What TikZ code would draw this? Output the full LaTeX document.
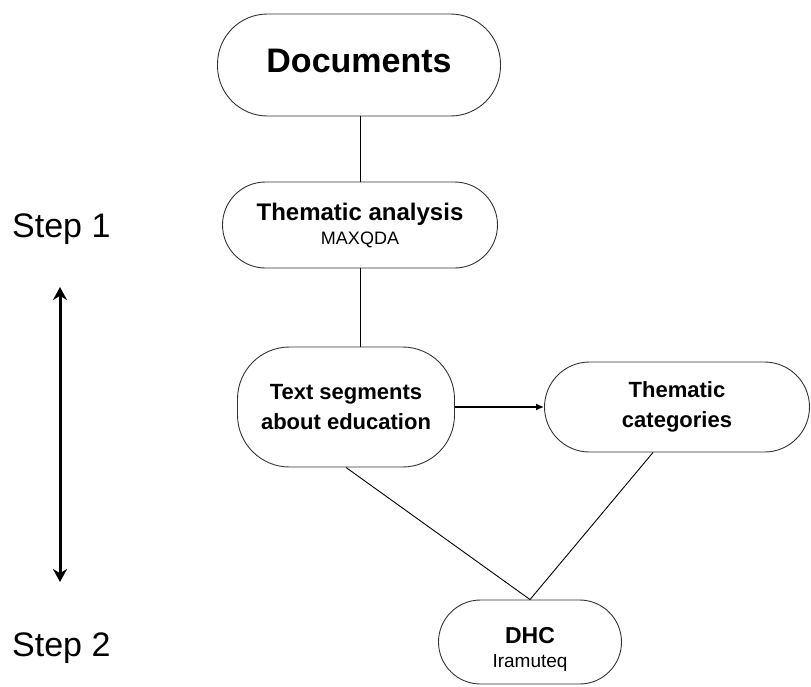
\documentclass[tikz,border=0pt]{standalone}
\usepackage{fontspec}
\setmainfont{Liberation Sans}
\usetikzlibrary{positioning,arrows.meta}
\tikzset{
  pill/.style={draw=black!80,line width=0.9pt,rounded corners=43pt,align=center,inner sep=0pt},
  bigfont/.style={font=\bfseries\fontsize{22}{30}\selectfont},
  stagelabel/.style={font=\fontsize{34}{34}\selectfont,anchor=base west,inner sep=0pt}
}
\newcommand{\subtool}[1]{{\mdseries\fontsize{18}{24}\selectfont #1}}
\begin{document}
\begin{tikzpicture}[x=1pt,y=-1pt]
\useasboundingbox (0,0) rectangle (811,686);
\node[pill,rounded corners=50pt,minimum width=283pt,minimum height=102pt,font=\bfseries\fontsize{34}{34}\selectfont,text height=24pt,text depth=10pt] (docs) at (359,65) {Documents};
\node[pill,minimum width=275pt,minimum height=86pt,font=\bfseries\fontsize{24}{24}\selectfont] (thematic) at (360,225) {Thematic analysis\\\subtool{MAXQDA}};
\node[pill,rounded corners=52pt,bigfont,minimum width=217pt,minimum height=120pt] (segments) at (346,407) {Text segments\\about education};
\node[pill,rounded corners=45pt,bigfont,minimum width=265pt,minimum height=90pt] (categories) at (677,407) {Thematic\\categories};
\node[pill,rounded corners=42pt,minimum width=183pt,minimum height=84pt,font=\bfseries\fontsize{23}{24}\selectfont] (dhc) at (530,642) {\rule{0pt}{30pt}DHC\\\subtool{\fontsize{19}{26}\selectfont Iramuteq}};
\node[stagelabel] (stage1) at (12,237) {Step 1};
\node[stagelabel] (stage2) at (12,656) {Step 2};
\coordinate (up) at (60,287);
\coordinate (down) at (60,582);
\draw[line width=0.9pt] (thematic.north |- docs.south) -- (thematic.north);
\draw[line width=0.9pt] (thematic.south) -- (thematic.south |- segments.north);
\draw[line width=1.5pt,-{Latex[length=8pt,width=7pt]}] (segments.east) -- (categories.west);
\draw[line width=0.9pt] (segments.south) -- (dhc.north) -- ([xshift=-24pt]categories.south);
\draw[line width=3pt,{Stealth[length=13pt,width=14pt]}-{Stealth[length=13pt,width=14pt]}] (up) -- (down);
\end{tikzpicture}
\end{document}
